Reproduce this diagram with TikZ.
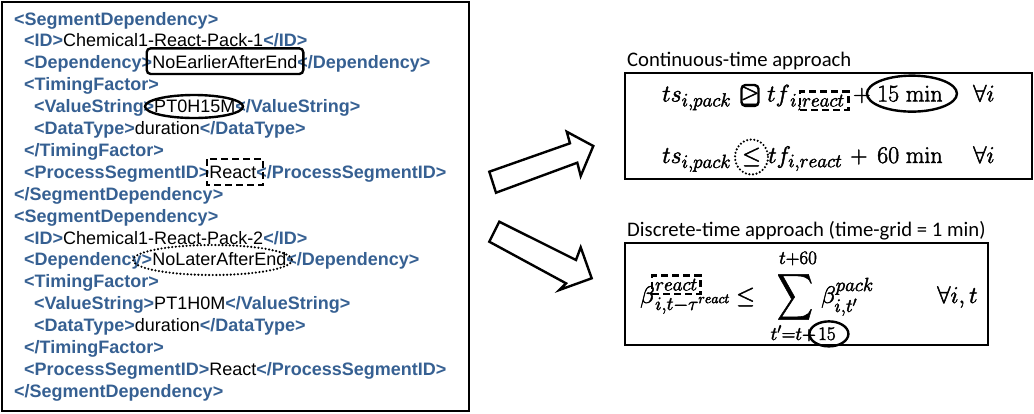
\RequirePackage{fix-cm}
\documentclass[tikz,border=0pt]{standalone}
\usepackage{amsmath}
\usepackage[no-math]{fontspec}
\setmainfont{Liberation Sans}
\newfontfamily\carlito{Carlito}
\usetikzlibrary{fit,shapes.geometric}
\DeclareMathSizes{24}{24}{19}{14}
\definecolor{tagblue}{RGB}{54,96,146}
\newcommand\tg[1]{{\bfseries\color{tagblue}#1}}
\newcommand\fbon{\special{pdf:literal direct 2 Tr 0.45 w}}
\newcommand\fboff{\special{pdf:literal direct 0 Tr}}
\begin{document}
\begin{tikzpicture}[x=1pt,y=-1pt,
  xl/.style={anchor=base west, inner sep=0pt, font=\fontsize{18}{22}\selectfont},
  eq/.style={anchor=base west, inner sep=0pt, font=\fontsize{24}{28}\selectfont,
    execute at begin node=\fbon, execute at end node=\fboff},
  ttl/.style={anchor=base west, inner sep=0pt, font=\carlito\fontsize{20.7}{24}\selectfont},
  frame/.style={draw, line width=1.2pt},
  hlsolid/.style={draw, line width=2.4pt, rounded corners=4pt},
  hldash/.style={draw, line width=2.4pt, dash pattern=on 7pt off 4pt},
  hldot/.style={draw, line width=2.4pt, dash pattern=on 0pt off 3.6pt, line cap=round},
  hlline/.style={draw, line width=2.4pt},
  blockarrow/.style={draw, line width=2.4pt, fill=white, line join=miter}
]
\useasboundingbox (0,0) rectangle (1034,413);
% left XML box
\draw[frame] (2,2) rectangle (469,411);
\node[xl] (l1)  at (14,25)    {\tg{<SegmentDependency>}};
\node[xl] (l2)  at (24,46.9)  {\tg{<ID>}Chemical1-React-Pack-1\tg{</ID>}};
\node[xl] (l3)  at (24,68.8)  {\tg{<Dependency>}NoEarlierAfterEnd\tg{</Dependency>}};
\node[xl] (l4)  at (24,90.7)  {\tg{<TimingFactor>}};
\node[xl] (l5)  at (34,112.6) {\tg{<ValueString>}PT0H15M\tg{</ValueString>}};
\node[xl] (l6)  at (34,134.5) {\tg{<DataType>}duration\tg{</DataType>}};
\node[xl] (l7)  at (24,156.4) {\tg{</TimingFactor>}};
\node[xl] (l8)  at (24,178.3) {\tg{<ProcessSegmentID>}React\tg{</ProcessSegmentID>}};
\node[xl] (l9)  at (14,200.2) {\tg{</SegmentDependency>}};
\node[xl] (l10) at (14,222.1) {\tg{<SegmentDependency>}};
\node[xl] (l11) at (24,244)   {\tg{<ID>}Chemical1-React-Pack-2\tg{</ID>}};
\node[xl] (l12) at (24,265.9) {\tg{<Dependency>}NoLaterAfterEnd\tg{</Dependency>}};
\node[xl] (l13) at (24,287.8) {\tg{<TimingFactor>}};
\node[xl] (l14) at (34,309.7) {\tg{<ValueString>}PT1H0M\tg{</ValueString>}};
\node[xl] (l15) at (34,331.6) {\tg{<DataType>}duration\tg{</DataType>}};
\node[xl] (l16) at (24,353.5) {\tg{</TimingFactor>}};
\node[xl] (l17) at (24,375.4) {\tg{<ProcessSegmentID>}React\tg{</ProcessSegmentID>}};
\node[xl] (l18) at (14,397.3) {\tg{</SegmentDependency>}};
% highlights in XML
\draw[hlsolid] (146.7,48.3) rectangle (303.3,74);
\draw[hlline] (194,106.5) ellipse [x radius=49, y radius=11.5];
\draw[hldash] (207,159) rectangle (263,185);
\draw[hldot] (212.5,260) ellipse [x radius=79.5, y radius=15];
% block arrows
\draw[blockarrow] (489.3,171.7) -- (570,143.3) -- (566.7,131.7) -- (593.3,146) -- (580.7,176) -- (577.3,162.7) -- (496,192.7) -- cycle;
\draw[blockarrow] (499.3,221.7) -- (576,260) -- (580.7,247.3) -- (591.7,278.3) -- (559.3,290) -- (566,283.3) -- (489.3,241.7) -- cycle;
% titles
\node[ttl] (t1) at (627,66) {Continuous-time approach};
\node[ttl] (t2) at (627,236) {Discrete-time approach (time-grid = 1 min)};
% frames
\draw[frame] (625,73) rectangle (1032,179);
\draw[frame] (625,243) rectangle (988,345);
% equation 1
\node[eq] (e1ts) at (662,101.5) {$ts_{i,pack}$};
\node[eq, anchor=base] (e1ge) at (750,101.5) {$\geq$};
\node[hlsolid, fit=(e1ge), inner xsep=-1pt, inner ysep=1pt] (e1gebox) {};
\node[eq] (e1tf) at (767,101.5) {$tf$};
\node[eq] (e1i) at ([yshift=-5pt]e1tf.base east) {$\scriptstyle i,$};
\node[eq] (e1re) at (e1i.base east) {$\scriptstyle react$};
\node[hldash, fit=(e1re), inner ysep=3pt, inner xsep=3pt, xshift=1pt] (e1rebox) {};
\node[eq] (e1pl) at (853,101.5) {$+$};
\node[eq] (e1num) at (877,101.5) {$15\ \mathrm{min}$};
\draw[hlline] ([xshift=2pt]e1num.center) ellipse [x radius=45, y radius=18];
\node[eq] (e1all) at (973,101.5) {$\forall i$};
% equation 2
\node[eq] (e2ts) at (662,163) {$ts_{i,pack}$};
\node[eq, anchor=base] (e2le) at (751.5,163) {$\leq$};
\draw[hldot] (e2le.center) ellipse [x radius=16.5, y radius=17.5];
\node[eq] (e2tf) at (768,163) {$tf_{i,react}$};
\node[eq] (e2pl) at (850,163) {$+$};
\node[eq] (e2num) at (877,163) {$60\ \mathrm{min}$};
\node[eq] (e2all) at (973,163) {$\forall i$};
% equation 3
\node[eq] (e3b) at (640,303) {$\beta$};
\node[eq] (e3sup) at ([yshift=12.5pt]e3b.base east) {$\scriptstyle react$};
\node[eq] (e3sub) at ([yshift=-7pt]e3b.base east) {$\scriptstyle i,t-\tau^{react}$};
\node[hldash, fit=(e3sup), inner ysep=3pt, inner xsep=3pt] (e3supbox) {};
\node[eq] (e3le) at (736,303) {$\leq$};
\node[eq, anchor=center] (e3sum) at (795,297) {\scalebox{1}[1.3]{$\displaystyle\sum$}};
\node[eq, anchor=base] (e3top) at (798,264) {$\scriptstyle t+60$};
\node[eq, anchor=base east] (e3bot1) at (816,340) {$\scriptstyle t'=t+$};
\node[eq] (e3bot2) at ([xshift=2pt]e3bot1.base east) {$\scriptstyle 15$};
\draw[hlline] ([xshift=2pt]e3bot2.center) ellipse [x radius=19.5, y radius=12.5];
\node[eq] (e3b2) at (821,303) {$\beta^{pack}_{i,t'}$};
\node[eq] (e3all) at (937,303) {$\forall i,t$};
\end{tikzpicture}
\end{document}
